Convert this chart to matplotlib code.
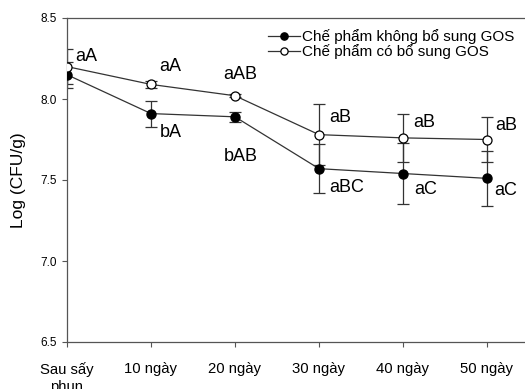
import numpy as np
import matplotlib
matplotlib.use('Agg')
import matplotlib.pyplot as plt

plt.rcParams['font.family'] = ['Liberation Sans', 'DejaVu Sans']

# Dữ liệu
ngay = ['Sau sấy\nphun', '10 ngày', '20 ngày', '30 ngày', '40 ngày', '50 ngày']
x = np.arange(len(ngay))

khong_gos = [8.15, 7.91, 7.89, 7.57, 7.54, 7.51]
khong_gos_err = [0.08, 0.08, 0.03, 0.15, 0.19, 0.17]
co_gos = [8.20, 8.09, 8.02, 7.78, 7.76, 7.75]
co_gos_err = [0.11, 0.02, 0.01, 0.19, 0.15, 0.14]

nhan_khong = ['', 'bA', 'bAB', 'aBC', 'aC', 'aC']
nhan_co = ['aA', 'aA', 'aAB', 'aB', 'aB', 'aB']

# vị trí chữ (pixel, lệch so với điểm)
lech_khong = [(0, 0), (9, -19), (-11, -40), (10, -19), (11, -16), (7, -12)]
lech_co = [(8, 10), (8, 18), (-12, 21), (10, 17), (10, 15), (8, 14)]

fig = plt.figure(figsize=(5.25, 3.89), dpi=100)
ax = fig.add_axes([67/525, 47/389, 5.5*84/525, 324/389])

mau = '#333333'
# thanh sai số
ax.errorbar(x, khong_gos, yerr=khong_gos_err, fmt='none', ecolor=mau,
            capsize=4, elinewidth=0.9, capthick=0.9, zorder=2)
ax.errorbar(x, co_gos, yerr=co_gos_err, fmt='none', ecolor=mau,
            capsize=4, elinewidth=0.9, capthick=0.9, zorder=2)
# đường và điểm
ax.plot(x, khong_gos, color=mau, lw=0.9, marker='o', ms=6.5, mfc='black',
        mec='black', label='Chế phẩm không bổ sung GOS', zorder=3)
ax.plot(x, co_gos, color=mau, lw=0.9, marker='o', ms=6.5, mfc='white',
        mec='black', mew=0.9, label='Chế phẩm có bổ sung GOS', zorder=4)

for i in range(len(x)):
    if nhan_khong[i]:
        ax.annotate(nhan_khong[i], (x[i], khong_gos[i]), xytext=lech_khong[i],
                    textcoords='offset pixels', ha='left', va='center', fontsize=13)
    ax.annotate(nhan_co[i], (x[i], co_gos[i]), xytext=lech_co[i],
                textcoords='offset pixels', ha='left', va='center', fontsize=13)

ax.set_xlim(0, 5.5)
ax.set_ylim(6.5, 8.5)
ax.set_yticks([6.5, 7.0, 7.5, 8.0, 8.5])
ax.set_yticklabels(['6.5', '7.0', '7.5', '8.0', '8.5'], fontsize=8.5)
ax.set_xticks(x)
ax.set_xticklabels(ngay, fontsize=10.7, va='top', linespacing=1.25)
ax.tick_params(axis='x', length=3.6, pad=11, color='#555555')
ax.tick_params(axis='y', length=3.6, pad=4, color='#555555')
ax.spines['right'].set_visible(False)
for s in ['left', 'bottom', 'top']:
    ax.spines[s].set_color('#555555')
    ax.spines[s].set_linewidth(0.9)
ax.set_ylabel('Log (CFU/g)', fontsize=12.5, labelpad=10)

ax.legend(loc='upper left', bbox_to_anchor=((268-67)/(5.5*84), (342-29)/324),
          frameon=False, fontsize=11, handlelength=2.1, handletextpad=0.15,
          labelspacing=0.0, borderpad=0, borderaxespad=0, markerscale=0.8)

fig.savefig('out.png', dpi=100)
